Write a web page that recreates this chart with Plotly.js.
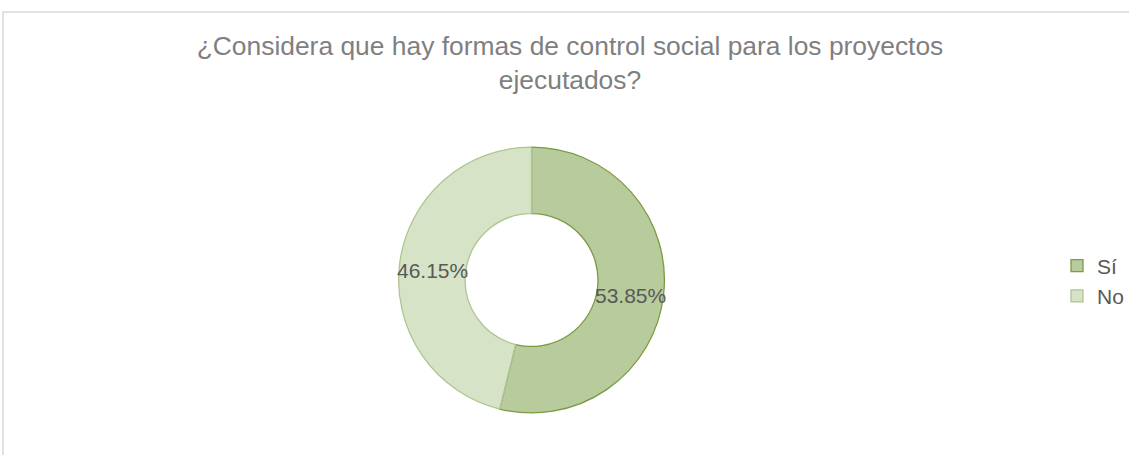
<!DOCTYPE html>
<html>
<head>
<meta charset="utf-8">
<script src="https://cdn.plot.ly/plotly-3.0.1.min.js"></script>
<style>
html,body{margin:0;padding:0;background:#fff;}
#chart{width:1129px;height:455px;}
</style>
</head>
<body>
<div id="chart"></div>
<script>
const categories = ["Sí", "No"];
const values = [53.85, 46.15];
const titleText = "¿Considera que hay formas de control social para los proyectos<br>ejecutados?";

const W = 1129, H = 455;
const cx = 532, cy = 280, R = 133, HOLE = 0.5;
const FONT = "Liberation Sans, Arial, sans-serif";

const trace = {
  type: "pie",
  labels: categories,
  values: values,
  hole: HOLE,
  sort: false,
  direction: "clockwise",
  rotation: 0,
  textinfo: "none",
  marker: {
    colors: ["#b8cb9c", "#d7e3c6"],
    line: {color: ["#7b9b42", "#adc591"], width: 1.3}
  },
  domain: {x: [(cx - R) / W, (cx + R) / W], y: [(H - cy - R) / H, (H - cy + R) / H]},
  hoverinfo: "label+percent"
};

// data labels placed at the middle of each ring segment, derived from the values
const total = values.reduce((a, b) => a + b, 0);
let cum = 0;
const rMid = R * (1 + HOLE) / 2;
const labelAnnots = values.map(v => {
  const th = 2 * Math.PI * (cum + v / 2) / total;
  cum += v;
  const px = cx + rMid * Math.sin(th);
  const py = cy - rMid * Math.cos(th) + 3;
  return {
    xref: "paper", yref: "paper",
    x: px / W, y: 1 - py / H,
    xanchor: "center", yanchor: "middle",
    text: v.toFixed(2) + "%",
    showarrow: false,
    font: {family: FONT, size: 21, color: "#595959"}
  };
});

const layout = {
  width: W, height: H,
  margin: {l: 0, r: 0, t: 0, b: 0},
  paper_bgcolor: "#ffffff",
  plot_bgcolor: "#ffffff",
  font: {family: FONT, color: "#595959"},
  title: {
    text: titleText,
    font: {family: FONT, size: 26.4, color: "#7f7f7f"},
    x: 570 / W, xanchor: "center",
    y: 1 - 55 / H, yanchor: "top", yref: "paper"
  },
  showlegend: true,
  legend: {
    x: 1058 / W, xanchor: "left",
    y: 1 - 281 / H, yanchor: "middle",
    font: {family: FONT, size: 21, color: "#595959"},
    itemwidth: 30,
    bgcolor: "rgba(0,0,0,0)"
  },
  annotations: labelAnnots,
  shapes: [{
    type: "rect", xref: "paper", yref: "paper",
    x0: 3 / W, x1: 1.02, y0: -0.02, y1: 1 - 12 / H,
    line: {color: "#d9d9d9", width: 1.5}, fillcolor: "rgba(0,0,0,0)"
  }]
};

Plotly.newPlot("chart", [trace], layout, {displayModeBar: false, staticPlot: true});
</script>
</body>
</html>
